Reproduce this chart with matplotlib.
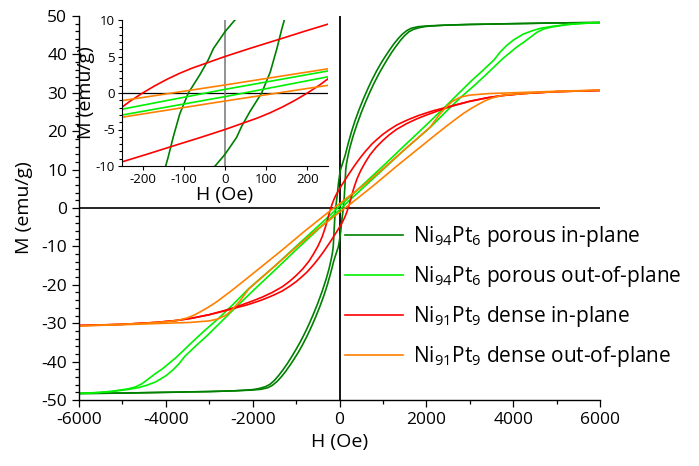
import matplotlib
matplotlib.use('Agg')
import matplotlib.pyplot as plt
from matplotlib.ticker import MultipleLocator

plt.rcParams.update({
    'font.family':        'Open Sans',
    'mathtext.fontset':   'custom',
    'mathtext.rm':        'Open Sans',
    'mathtext.it':        'Open Sans:italic',
    'mathtext.bf':        'Open Sans:bold',
    'axes.unicode_minus': False,
})

# Ni94Pt6 porous in-plane (dark green): descending and ascending branches
pin_h_desc = [6000, 5000, 4000, 3000, 2400, 2000, 1800, 1650, 1550, 1450, 1350, 1250, 1150, 1050, 950,
              850, 750, 650, 550, 450, 360, 280, 200, 130, 70, 24, 0, -28, -41, -61, -89, -110, -126,
              -138, -144, -160, -190, -240, -310, -400, -500, -600, -700, -800, -900, -1000, -1100,
              -1200, -1300, -1400, -1500, -1600, -1700, -1850, -2000, -2400, -3000, -4000, -5000, -6000]
pin_m_desc = [48.3, 48.2, 48.0, 47.8, 47.6, 47.4, 47.2, 46.8, 46.2, 45.3, 44.1, 42.7, 41.1, 39.4, 37.6,
              35.6, 33.4, 31.0, 28.4, 25.6, 22.8, 20.0, 16.8, 13.7, 11.6, 10.0, 8.4, 6.1, 4.5, 2.5, 0.0, -2.9,
              -6.1, -8.8, -10.0, -11.5, -13.3, -15.8, -18.6, -21.7, -24.8, -27.6, -30.2, -32.6, -34.8, -36.8,
              -38.7, -40.5, -42.1, -43.6, -44.9, -45.9, -46.5, -47.0, -47.3, -47.6, -47.8, -48.0, -48.2, -48.3]
pin_h_asc = [-6000, -5000, -4000, -3000, -2400, -2000, -1800, -1650, -1550, -1450, -1350, -1250, -1150,
             -1050, -950, -850, -750, -650, -550, -450, -360, -280, -200, -130, -70, -24, 0, 28, 41, 61, 89,
             110, 126, 138, 144, 160, 190, 240, 310, 400, 500, 600, 700, 800, 900, 1000, 1100, 1200, 1300,
             1400, 1500, 1600, 1700, 1850, 2000, 2400, 3000, 4000, 5000, 6000]
pin_m_asc = [-48.3, -48.2, -48.0, -47.8, -47.6, -47.4, -47.2, -46.8, -46.2, -45.3, -44.1, -42.7, -41.1,
             -39.4, -37.6, -35.6, -33.4, -31.0, -28.4, -25.6, -22.8, -20.0, -16.8, -13.7, -11.6, -10.0, -8.4,
             -6.1, -4.5, -2.5, 0.0, 2.9, 6.1, 8.8, 10.0, 11.5, 13.3, 15.8, 18.6, 21.7, 24.8, 27.6, 30.2, 32.6,
             34.8, 36.8, 38.7, 40.5, 42.1, 43.6, 44.9, 45.9, 46.5, 47.0, 47.3, 47.6, 47.8, 48.0, 48.2, 48.3]

# Ni94Pt6 porous out-of-plane (light green)
pout_h_desc = [6000, 5500, 5189, 4900, 4634, 4450, 4236, 4000, 3839, 3700, 3561, 3300, 3045, 2750, 2420,
               1932, 1500, 1000, 248, 0, -248, -1000, -1500, -2091, -2460, -2800, -3125, -3400, -3602,
               -3760, -3920, -4080, -4236, -4400, -4554, -4700, -4871, -5270, -5600, -6000]
pout_m_desc = [48.3, 48.0, 47.7, 47.3, 46.8, 46.2, 45.3, 43.7, 42.2, 40.6, 38.6, 35.8, 33.2, 29.9, 26.2,
               20.9, 16.3, 10.9, 3.0, 0.5, -2.2, -10.0, -15.2, -21.0, -25.2, -28.9, -32.1, -35.0, -37.2,
               -38.9, -40.4, -41.9, -43.1, -44.5, -45.8, -46.6, -47.1, -47.8, -48.1, -48.3]
pout_h_asc = [-6000, -5500, -5189, -4900, -4634, -4450, -4236, -4000, -3839, -3700, -3561, -3300, -3045,
              -2750, -2420, -1932, -1500, -1000, -248, 0, 248, 1000, 1500, 2091, 2460, 2800, 3125, 3400,
              3602, 3760, 3920, 4080, 4236, 4400, 4554, 4700, 4871, 5270, 5600, 6000]
pout_m_asc = [-48.3, -48.0, -47.7, -47.3, -46.8, -46.2, -45.3, -43.7, -42.2, -40.6, -38.6, -35.8, -33.2,
              -29.9, -26.2, -20.9, -16.3, -10.9, -3.0, -0.5, 2.2, 10.0, 15.2, 21.0, 25.2, 28.9, 32.1, 35.0,
              37.2, 38.9, 40.4, 41.9, 43.1, 44.5, 45.8, 46.6, 47.1, 47.8, 48.1, 48.3]

# Ni91Pt9 dense in-plane (red)
din_h_desc = [6000, 5000, 4236, 3761, 3400, 3006, 2649, 2391, 2150, 1930, 1800, 1624, 1500, 1317, 1150,
              1000, 856, 750, 600, 500, 400, 320, 248, 190, 134, 60, 0, -40, -80, -110, -140, -170, -200,
              -230, -256, -280, -320, -360, -400, -450, -500, -600, -700, -850, -1000, -1150, -1317,
              -1550, -1778, -2000, -2391, -2649, -3006, -3400, -3761, -4236, -5000, -6000]
din_m_desc = [30.6, 30.3, 29.8, 29.3, 28.7, 27.8, 26.8, 26.0, 25.3, 24.5, 24.0, 23.2, 22.6, 21.6, 20.4,
              19.2, 17.8, 16.7, 14.8, 13.4, 11.9, 10.6, 9.4, 8.4, 7.4, 6.1, 5.0, 4.2, 3.4, 2.7, 1.9, 1.0, 0.0,
              -1.1, -2.2, -3.2, -4.8, -6.2, -7.5, -8.8, -10.0, -12.0, -13.8, -15.9, -17.6, -19.1, -20.5,
              -22.0, -23.2, -24.2, -25.8, -26.7, -27.8, -28.7, -29.3, -29.8, -30.3, -30.6]
din_h_asc = [-6000, -5000, -4236, -3761, -3400, -3006, -2649, -2391, -2150, -1930, -1800, -1624, -1500,
             -1317, -1150, -1000, -856, -750, -600, -500, -400, -320, -248, -190, -134, -60, 0, 40, 80, 110,
             140, 170, 200, 230, 256, 280, 320, 360, 400, 450, 500, 600, 700, 850, 1000, 1150, 1317, 1550,
             1778, 2000, 2391, 2649, 3006, 3400, 3761, 4236, 5000, 6000]
din_m_asc = [-30.6, -30.3, -29.8, -29.3, -28.7, -27.8, -26.8, -26.0, -25.3, -24.5, -24.0, -23.2, -22.6,
             -21.6, -20.4, -19.2, -17.8, -16.7, -14.8, -13.4, -11.9, -10.6, -9.4, -8.4, -7.4, -6.1, -5.0,
             -4.2, -3.4, -2.7, -1.9, -1.0, 0.0, 1.1, 2.2, 3.2, 4.8, 6.2, 7.5, 8.8, 10.0, 12.0, 13.8, 15.9,
             17.6, 19.1, 20.5, 22.0, 23.2, 24.2, 25.8, 26.7, 27.8, 28.7, 29.3, 29.8, 30.3, 30.6]

# Ni91Pt9 dense out-of-plane (orange)
dout_h_desc = [6000, 5000, 4236, 3443, 3000, 2800, 2600, 2451, 2300, 2091, 1700, 1317, 1000, 549, 248, 0,
               -256, -800, -1317, -1700, -2161, -2450, -2660, -2850, -3045, -3200, -3350, -3500, -3700,
               -3900, -4464, -5033, -6000]
dout_m_desc = [30.7, 30.4, 30.1, 29.8, 29.4, 28.9, 27.8, 26.2, 24.3, 21.1, 17.2, 13.4, 10.2, 5.9, 3.3, 1.1,
               -1.1, -6.0, -10.9, -14.4, -18.6, -21.2, -23.0, -24.6, -26.0, -27.0, -27.9, -28.6, -29.2,
               -29.5, -30.0, -30.3, -30.7]
dout_h_asc = [-6000, -5000, -4236, -3443, -3000, -2800, -2600, -2451, -2300, -2091, -1700, -1317, -1000,
              -549, -248, 0, 256, 800, 1317, 1700, 2161, 2450, 2660, 2850, 3045, 3200, 3350, 3500, 3700,
              3900, 4464, 5033, 6000]
dout_m_asc = [-30.7, -30.4, -30.1, -29.8, -29.4, -28.9, -27.8, -26.2, -24.3, -21.1, -17.2, -13.4, -10.2,
              -5.9, -3.3, -1.1, 1.1, 6.0, 10.9, 14.4, 18.6, 21.2, 23.0, 24.6, 26.0, 27.0, 27.9, 28.6, 29.2,
              29.5, 30.0, 30.3, 30.7]

labels = ['Ni$_{94}$Pt$_6$ porous in-plane',
          'Ni$_{94}$Pt$_6$ porous out-of-plane',
          'Ni$_{91}$Pt$_9$ dense in-plane',
          'Ni$_{91}$Pt$_9$ dense out-of-plane']
colors = ['#008000', '#00f000', '#ff0000', '#ff8000']

loops = [
    (pin_h_desc, pin_m_desc, pin_h_asc, pin_m_asc),
    (pout_h_desc, pout_m_desc, pout_h_asc, pout_m_asc),
    (din_h_desc, din_m_desc, din_h_asc, din_m_asc),
    (dout_h_desc, dout_m_desc, dout_h_asc, dout_m_asc),
]

fig = plt.figure(figsize=(6.99, 4.66), dpi=100)
ax = fig.add_axes([79/699, 1 - 400/466, 521/699, 384/466])

# zero lines
ax.axhline(0, color='black', lw=1.2, zorder=1)
ax.axvline(0, color='black', lw=1.3, zorder=1)

handles = []
for (hd, md, ha, ma), col, lab in zip(loops, colors, labels):
    line, = ax.plot(hd, md, color=col, lw=1.2, label=lab, zorder=2)
    ax.plot(ha, ma, color=col, lw=1.2, zorder=2)
    handles.append(line)

ax.set_xlim(-6000, 6000)
ax.set_ylim(-50, 50)
ax.xaxis.set_major_locator(MultipleLocator(2000))
ax.xaxis.set_minor_locator(MultipleLocator(1000))
ax.yaxis.set_major_locator(MultipleLocator(10))
ax.yaxis.set_minor_locator(MultipleLocator(2))
ax.tick_params(which='major', direction='out', length=5, width=0.9, labelsize=12.5)
ax.tick_params(which='minor', direction='out', length=3, width=0.9)
for side in ['top', 'right']:
    ax.spines[side].set_visible(False)
for side in ['left', 'bottom']:
    ax.spines[side].set_linewidth(1.0)
ax.set_xlabel('H (Oe)', fontsize=14, labelpad=4)
ax.set_ylabel('M (emu/g)', fontsize=14, labelpad=6)

fig.legend(handles=handles, loc='upper left', bbox_to_anchor=(345/699, 1 - 224/466),
           frameon=False, fontsize=15, handlelength=2.8, handletextpad=0.45,
           labelspacing=0.72, borderpad=0, borderaxespad=0)

# inset: zoom around the origin
axin = fig.add_axes([122/699, 1 - 166/466, 206/699, 146/466])
axin.axhline(0, color='black', lw=0.9, zorder=1)
axin.axvline(0, color='#808080', lw=1.2, zorder=1)
for (hd, md, ha, ma), col in zip(loops, colors):
    axin.plot(hd, md, color=col, lw=1.2, zorder=2)
    axin.plot(ha, ma, color=col, lw=1.2, zorder=2)
axin.set_xlim(-250, 250)
axin.set_ylim(-10, 10)
axin.xaxis.set_major_locator(MultipleLocator(100))
axin.yaxis.set_major_locator(MultipleLocator(5))
axin.yaxis.set_minor_locator(MultipleLocator(1))
axin.tick_params(which='major', direction='out', length=3, width=0.8, labelsize=9.5, pad=2)
axin.tick_params(which='minor', direction='out', length=2, width=0.8)
for side in ['top', 'right']:
    axin.spines[side].set_visible(False)
axin.set_xlabel('H (Oe)', fontsize=14, labelpad=0)
axin.set_ylabel('M (emu/g)', fontsize=14)
axin.yaxis.set_label_coords(-0.13, 0.5)

fig.savefig('out.png', dpi=100)
